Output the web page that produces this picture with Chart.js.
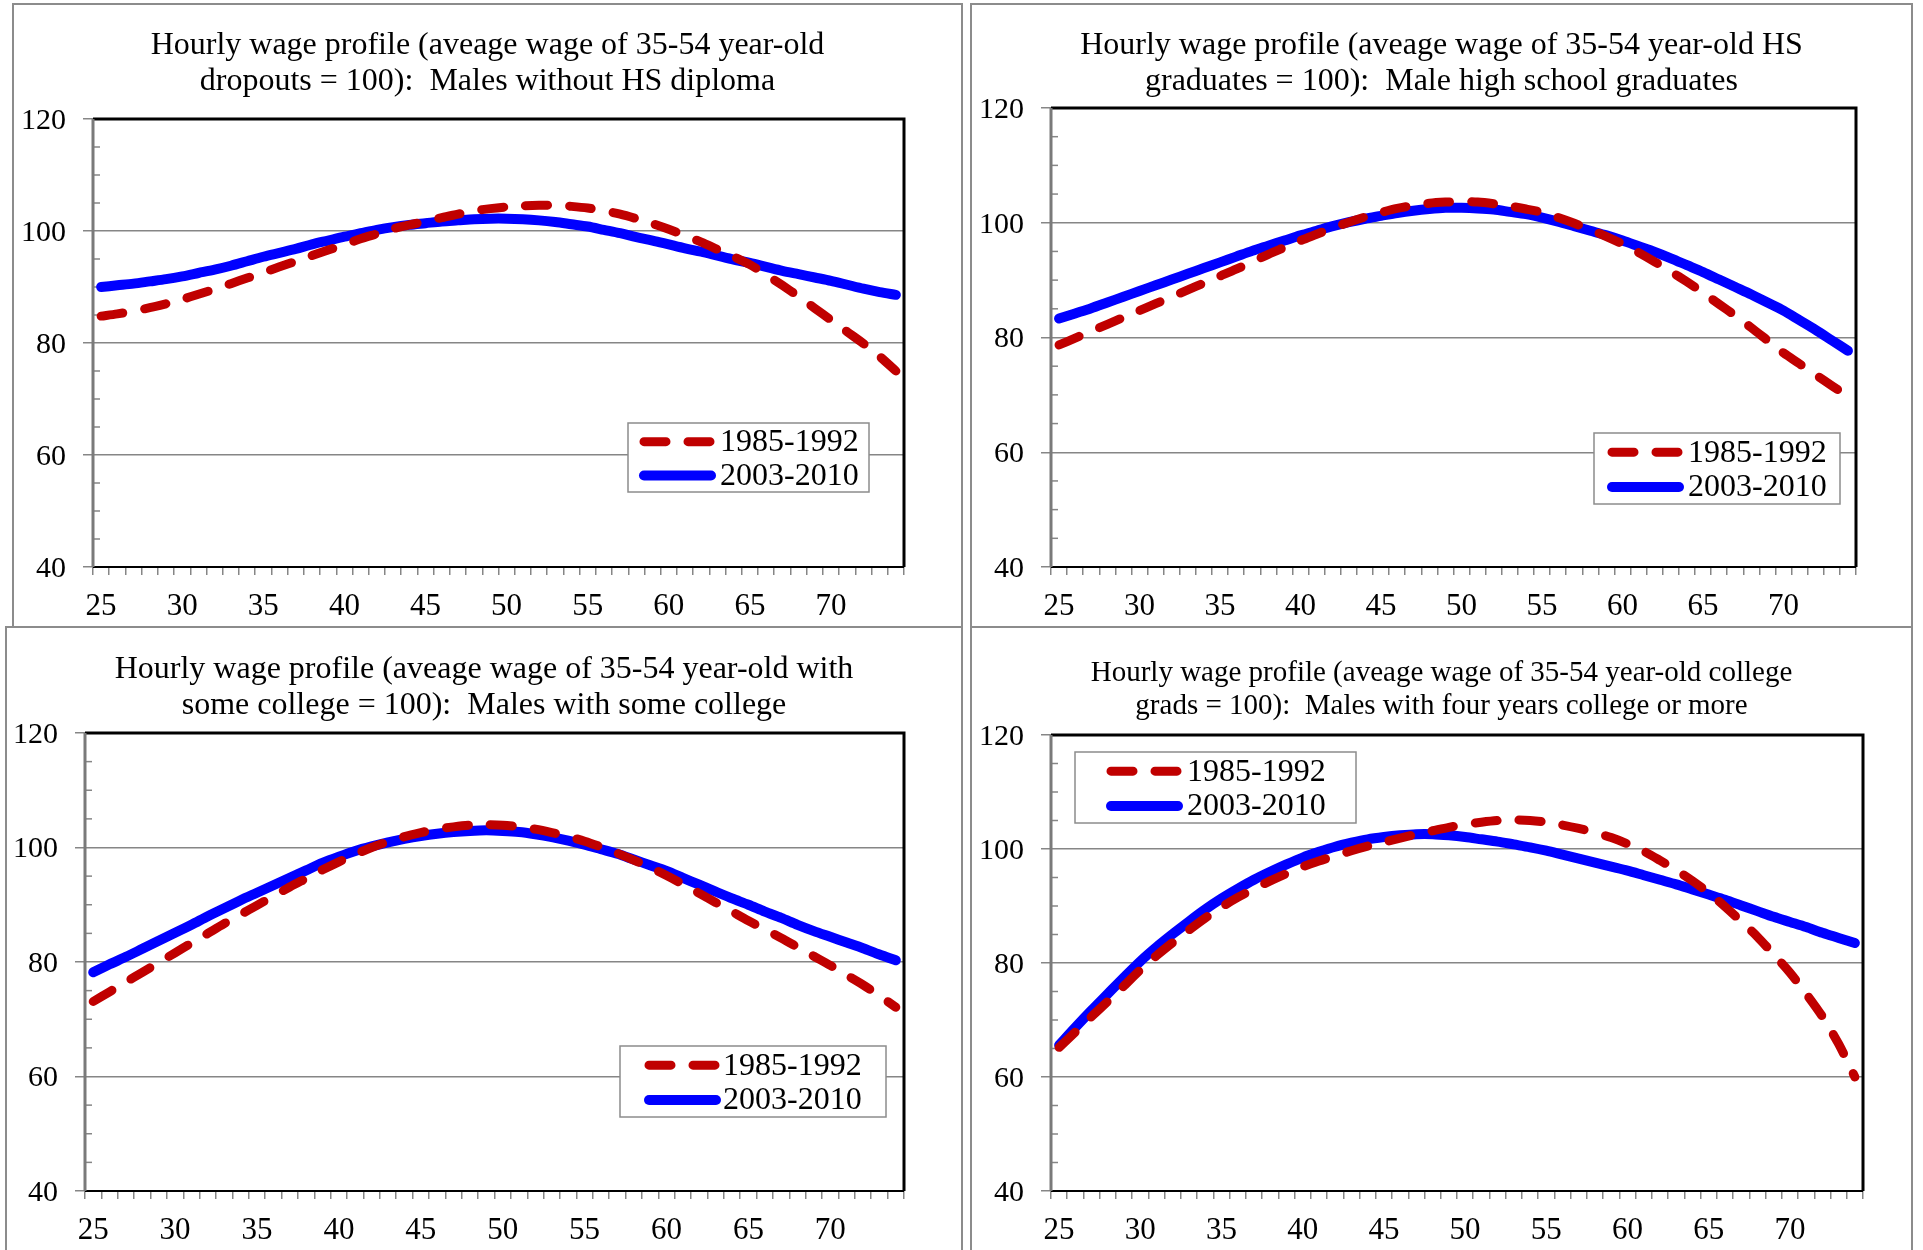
<!DOCTYPE html>
<html>
<head>
<meta charset="utf-8">
<script src="https://cdn.jsdelivr.net/npm/chart.js@4.4.0/dist/chart.umd.min.js"></script>
<style>
body{margin:0;background:#fff;width:1923px;height:1250px;overflow:hidden;position:relative;}
.panel{position:absolute;border:2px solid #8c8c8c;box-sizing:border-box;background:#fff;overflow:hidden;}
.panel canvas{position:absolute;left:0;top:0;}
</style>
</head>
<body>
<div class="panel" style="left:12px;top:3px;width:951px;height:626px"><canvas id="c1" width="947" height="622"></canvas></div>
<div class="panel" style="left:970px;top:3px;width:943px;height:626px"><canvas id="c2" width="939" height="622"></canvas></div>
<div class="panel" style="left:5px;top:626px;width:958px;height:640px"><canvas id="c3" width="954" height="636"></canvas></div>
<div class="panel" style="left:970px;top:626px;width:943px;height:640px"><canvas id="c4" width="939" height="636"></canvas></div>
<script>
const ages = [25,26,27,28,29,30,31,32,33,34,35,36,37,38,39,40,41,42,43,44,45,46,47,48,49,
  50,51,52,53,54,55,56,57,58,59,60,61,62,63,64,65,66,67,68,69,70,71,72,73,74];
const tickLabels = [25,30,35,40,45,50,55,60,65,70];
const seriesNames = ["1985-1992","2003-2010"];

// males without HS diploma
const dropRed = [84.8,85.2,85.7,86.3,87.0,87.8,88.7,89.6,90.6,91.6,92.6,93.6,94.6,95.6,96.6,97.6,98.6,99.5,100.4,101.1,
  101.7,102.4,103.0,103.6,104.0,104.3,104.5,104.6,104.6,104.4,104.1,103.6,103.0,102.2,101.3,100.3,99.2,98.0,96.7,95.4,
  94.0,92.2,90.3,88.3,86.2,84.1,82.0,79.9,77.6,75.0];
const dropBlue = [90.0,90.3,90.6,91.0,91.4,91.9,92.5,93.1,93.8,94.6,95.4,96.1,96.8,97.6,98.3,99.0,99.6,100.2,100.7,101.1,
  101.4,101.7,101.9,102.1,102.2,102.2,102.1,101.9,101.6,101.2,100.8,100.2,99.6,98.9,98.3,97.6,96.9,96.3,95.6,94.9,
  94.3,93.6,92.9,92.3,91.7,91.1,90.4,89.7,89.1,88.6];

// male high school grads
const hsRed = [78.7,79.9,81.1,82.3,83.5,84.7,85.9,87.1,88.3,89.5,90.7,91.9,93.2,94.5,95.7,96.9,98.0,99.1,100.1,101.0,
  101.8,102.5,103.0,103.4,103.6,103.7,103.6,103.3,102.9,102.4,101.8,100.9,99.9,98.8,97.6,96.3,94.8,93.2,91.5,89.7,
  87.8,85.8,83.8,81.7,79.5,77.3,75.4,73.5,71.6,69.7];
const hsBlue = [83.3,84.2,85.1,86.1,87.1,88.1,89.1,90.1,91.1,92.1,93.1,94.1,95.1,96.0,96.9,97.8,98.6,99.4,100.1,100.7,
  101.2,101.7,102.1,102.4,102.6,102.6,102.5,102.3,101.9,101.5,100.9,100.2,99.4,98.6,97.8,96.9,95.9,94.9,93.8,92.6,
  91.4,90.1,88.8,87.5,86.1,84.7,83.0,81.3,79.5,77.7];

// some college
const scRed = [73.1,74.8,76.5,78.2,79.9,81.6,83.3,85.0,86.7,88.3,89.9,91.5,93.1,94.6,96.1,97.5,98.8,100.0,101.0,101.9,
  102.6,103.2,103.6,103.9,104.0,103.9,103.6,103.2,102.6,101.9,101.1,100.1,99.0,97.8,96.5,95.1,93.6,92.0,90.4,88.8,
  87.2,85.7,84.2,82.6,81.0,79.4,77.7,76.0,74.1,72.1];
const scBlue = [78.2,79.6,80.9,82.3,83.7,85.1,86.5,88.0,89.4,90.8,92.1,93.4,94.7,96.0,97.3,98.4,99.4,100.2,100.9,101.5,
  102.0,102.4,102.7,102.9,103.0,102.9,102.7,102.3,101.8,101.2,100.5,99.7,98.9,97.9,96.9,95.9,94.7,93.5,92.3,91.1,
  90.0,88.8,87.7,86.5,85.4,84.4,83.4,82.4,81.3,80.3];

// four years college or more
const colRed = [65.2,67.9,70.6,73.3,76.0,78.8,81.3,83.6,85.8,87.9,89.8,91.5,93.0,94.4,95.7,96.9,97.9,98.8,99.7,100.5,
  101.2,101.9,102.6,103.2,103.8,104.3,104.7,105.0,105.1,105.0,104.7,104.2,103.6,102.9,102.0,100.9,99.6,98.0,96.3,94.4,
  92.3,89.9,87.3,84.6,81.5,78.3,74.6,70.6,65.8,60.0];
const colBlue = [65.6,68.7,71.7,74.6,77.5,80.3,82.8,85.1,87.3,89.4,91.3,93.0,94.6,96.0,97.3,98.5,99.5,100.4,101.1,101.7,
  102.1,102.4,102.6,102.6,102.4,102.1,101.7,101.3,100.8,100.3,99.7,99.0,98.3,97.6,96.9,96.2,95.4,94.6,93.8,92.9,
  92.0,91.1,90.1,89.1,88.1,87.2,86.3,85.3,84.4,83.5];

const GRAY = "#868686";
const RED = "#C00000";
const BLUE = "#0000FF";
const SERIF = "'Liberation Serif', 'Times New Roman', serif";

// plot frame + small inside ticks on the y axis
const framePlugin = {
  id: "frame",
  beforeDatasetsDraw(chart) {
    const ctx = chart.ctx;
    const a = chart.chartArea;
    const y = chart.scales.y;
    ctx.save();
    ctx.strokeStyle = GRAY;
    ctx.lineWidth = 1.5;
    for (let v = 45; v < 120; v += 5) {
      if (v % 20 === 0) continue;
      const py = y.getPixelForValue(v);
      ctx.beginPath();
      ctx.moveTo(a.left, py);
      ctx.lineTo(a.left + 7, py);
      ctx.stroke();
    }
    ctx.strokeStyle = "#000";
    ctx.lineWidth = 3;
    ctx.beginPath();
    ctx.moveTo(a.left, a.top);
    ctx.lineTo(a.right, a.top);
    ctx.lineTo(a.right, a.bottom);
    ctx.stroke();
    ctx.lineWidth = 2;
    ctx.beginPath();
    ctx.moveTo(a.left, a.bottom);
    ctx.lineTo(a.right, a.bottom);
    ctx.stroke();
    ctx.strokeStyle = "#7a7a7a";
    ctx.lineWidth = 3;
    ctx.beginPath();
    ctx.moveTo(a.left, a.top);
    ctx.lineTo(a.left, a.bottom);
    ctx.stroke();
    ctx.restore();
  }
};

// excel style legend box sitting inside the plot
const boxLegend = {
  id: "boxLegend",
  afterDatasetsDraw(chart, args, o) {
    const ctx = chart.ctx;
    const a = chart.chartArea;
    const bx = a.left + o.x, by = a.top + o.y;
    ctx.save();
    ctx.fillStyle = "#fff";
    ctx.fillRect(bx, by, o.w, o.h);
    ctx.strokeStyle = "#8c8c8c";
    ctx.lineWidth = 1.5;
    ctx.strokeRect(bx, by, o.w, o.h);
    const rows = [by + o.h * 0.27, by + o.h * 0.76];
    chart.data.datasets.forEach((ds, i) => {
      ctx.strokeStyle = ds.borderColor;
      ctx.lineWidth = ds.borderWidth;
      ctx.lineCap = "round";
      ctx.setLineDash(ds.borderDash || []);
      ctx.beginPath();
      ctx.moveTo(bx + o.sx + 5, rows[i]);
      ctx.lineTo(bx + o.sx + 72, rows[i]);
      ctx.stroke();
      ctx.setLineDash([]);
      ctx.fillStyle = "#000";
      ctx.font = "32px " + SERIF;
      ctx.textBaseline = "middle";
      ctx.fillText(ds.label, bx + o.tx, rows[i] + 1);
    });
    ctx.restore();
  }
};

function makeChart(id, title, red, blue, lay) {
  const xTicks = ages.map(a => a - 0.5).concat([ages[ages.length - 1] + 0.5]).concat(tickLabels);
  new Chart(document.getElementById(id), {
    type: "line",
    data: {
      datasets: [
        { label: seriesNames[0], data: ages.map((a, i) => ({x: a, y: red[i]})),
          borderColor: RED, borderWidth: 9, borderDash: [22, 22], borderCapStyle: "round",
          borderJoinStyle: "round", pointRadius: 0, tension: 0.3, fill: false },
        { label: seriesNames[1], data: ages.map((a, i) => ({x: a, y: blue[i]})),
          borderColor: BLUE, borderWidth: 10, borderCapStyle: "round",
          borderJoinStyle: "round", pointRadius: 0, tension: 0.3, fill: false }
      ]
    },
    options: {
      responsive: false,
      animation: false,
      layout: { padding: 0 },
      plugins: {
        legend: { display: false },
        tooltip: { enabled: false },
        title: {
          display: true,
          text: title,
          color: "#000",
          font: { family: SERIF, size: lay.titleSize, weight: "normal", lineHeight: lay.lh + "px" },
          padding: { top: lay.pt, bottom: lay.pb }
        },
        boxLegend: lay.legend
      },
      scales: {
        x: {
          type: "linear",
          min: ages[0] - 0.5,
          max: ages[ages.length - 1] + 0.5,
          afterBuildTicks: s => { s.ticks = xTicks.map(v => ({value: v})); },
          afterFit: s => { s.height = lay.xh; },
          border: { display: false },
          grid: {
            drawOnChartArea: false,
            tickLength: 8,
            lineWidth: 1.5,
            tickColor: c => (c.tick && Number.isInteger(c.tick.value)) ? "rgba(0,0,0,0)" : GRAY
          },
          ticks: {
            autoSkip: false, maxRotation: 0, minRotation: 0, padding: 13,
            color: "#000", font: { family: SERIF, size: 31 },
            callback: v => tickLabels.includes(v) ? String(v) : ""
          }
        },
        y: {
          min: 40,
          max: 120,
          afterFit: s => { s.width = lay.left; },
          border: { display: false },
          grid: {
            lineWidth: 1.5,
            tickLength: 10,
            tickColor: GRAY,
            color: c => (c.tick && (c.tick.value === 40 || c.tick.value === 120)) ? "rgba(0,0,0,0)" : GRAY
          },
          ticks: { stepSize: 20, padding: 17, labelOffset: 2, color: "#000", font: { family: SERIF, size: 30 } }
        },
        // empty right axis, only keeps the white space right of the plot
        yr: {
          position: "right",
          min: 40,
          max: 120,
          afterFit: s => { s.width = lay.right; },
          border: { display: false },
          grid: { display: false },
          ticks: { display: false }
        }
      }
    },
    plugins: [framePlugin, boxLegend]
  });
}

makeChart("c1",
  ["Hourly wage profile (aveage wage of 35-54 year-old", "dropouts = 100):  Males without HS diploma"],
  dropRed, dropBlue,
  { left: 79, right: 57, xh: 60, titleSize: 32, lh: 36, pt: 23, pb: 19,
    legend: { x: 535, y: 304, w: 241, h: 69, sx: 11, tx: 92 } });

makeChart("c2",
  ["Hourly wage profile (aveage wage of 35-54 year-old HS", "graduates = 100):  Male high school graduates"],
  hsRed, hsBlue,
  { left: 79, right: 55, xh: 60, titleSize: 32, lh: 36, pt: 23, pb: 8,
    legend: { x: 543, y: 325, w: 246, h: 71, sx: 13, tx: 94 } });

makeChart("c3",
  ["Hourly wage profile (aveage wage of 35-54 year-old with", "some college = 100):  Males with some college"],
  scRed, scBlue,
  { left: 78, right: 57, xh: 73, titleSize: 32, lh: 36, pt: 24, pb: 9,
    legend: { x: 535, y: 313, w: 266, h: 71, sx: 24, tx: 103 } });

makeChart("c4",
  ["Hourly wage profile (aveage wage of 35-54 year-old college", "grads = 100):  Males with four years college or more"],
  colRed, colBlue,
  { left: 79, right: 48, xh: 73, titleSize: 29, lh: 33, pt: 29, pb: 12,
    legend: { x: 24, y: 17, w: 281, h: 71, sx: 31, tx: 112 } });
</script>
</body>
</html>
